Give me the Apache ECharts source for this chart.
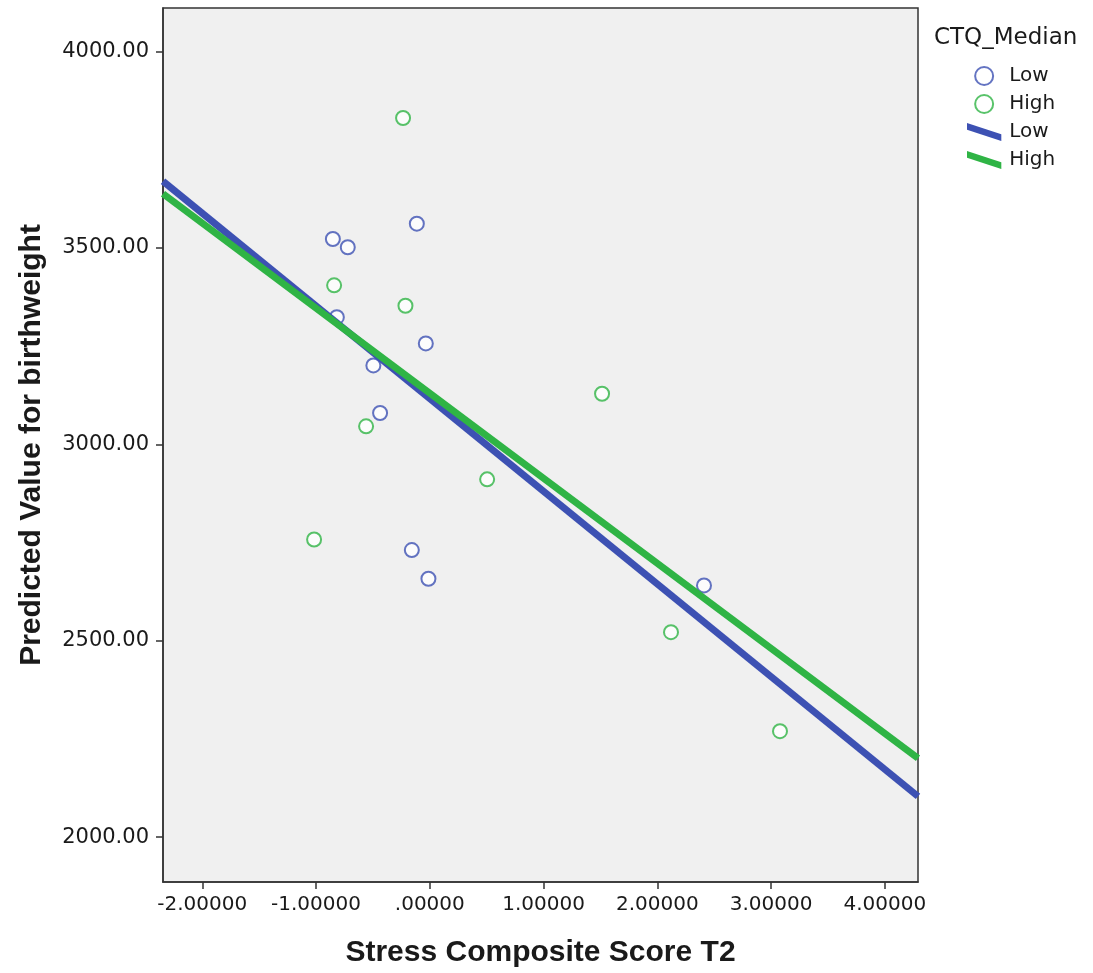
<!DOCTYPE html>
<html>
<head>
<meta charset="utf-8">
<title>Predicted birthweight by stress score</title>
<script src="https://cdn.jsdelivr.net/npm/echarts@6/dist/echarts.min.js"></script>
<style>
  html, body { margin: 0; padding: 0; background: #fff; }
  #chart { width: 1093px; height: 973px; }
</style>
</head>
<body>
<div id="chart"></div>
<script>
// data
var lowX  = [-0.852, -0.721, -0.114, -0.817, -0.035, -0.496, -0.437, -0.158, -0.012, 2.410];
var lowY  = [3523, 3502, 3562, 3324, 3257, 3201, 3080, 2731, 2658, 2641];
var highX = [-0.235, -0.841, -0.214, -0.560, -1.017, 0.504, 1.514, 2.120, 3.078];
var highY = [3831, 3405, 3353, 3046, 2758, 2911, 3129, 2522, 2270];
// fit lines: value at left and right edge of the plot
var fitX     = [-2.345, 4.291];
var lowFitY  = [3670, 2104];
var highFitY = [3638, 2201];
var xTicks = [-2, -1, 0, 1, 2, 3, 4];
var yTicks = [2000, 2500, 3000, 3500, 4000];

function pairs(xs, ys) {
    return xs.map(function (x, i) { return [x, ys[i]]; });
}

var blue = '#3d51b3';
var green = '#2fb445';
var textColor = '#1a1a1a';
var font = 'DejaVu Sans';
var barIcon = 'path://M0,0 L0,8 L40,21 L40,13 Z';

var myChart = echarts.init(document.getElementById('chart'));

var option = {
    animation: false,
    backgroundColor: '#fff',
    title: {
        text: 'CTQ_Median',
        left: 929,
        top: 22,
        textStyle: { fontFamily: font, fontSize: 23, fontWeight: 'normal', color: textColor }
    },
    legend: {
        orient: 'vertical',
        left: 962,
        top: 61,
        itemWidth: 40,
        itemHeight: 18,
        itemGap: 8,
        textStyle: { fontFamily: font, fontSize: 20, color: textColor },
        formatter: function (name) { return name.replace(' fit', ''); },
        data: [
            { name: 'Low', icon: 'emptyCircle' },
            { name: 'High', icon: 'emptyCircle' },
            { name: 'Low fit', icon: barIcon },
            { name: 'High fit', icon: barIcon }
        ]
    },
    grid: {
        left: 163,
        top: 8,
        right: 175,
        bottom: 90,
        show: true,
        backgroundColor: '#f0f0f0',
        borderColor: '#333',
        borderWidth: 1.5
    },
    xAxis: {
        type: 'value',
        min: fitX[0],
        max: fitX[1],
        name: 'Stress Composite Score T2',
        nameLocation: 'middle',
        nameGap: 56,
        nameTextStyle: { fontFamily: 'Liberation Sans', fontWeight: 'bold', fontSize: 30, color: textColor },
        splitLine: { show: false },
        axisLine: { onZero: false, lineStyle: { color: '#333', width: 1.5 } },
        axisTick: { show: true, length: 7, customValues: xTicks, lineStyle: { color: '#333', width: 1.5 } },
        axisLabel: {
            customValues: xTicks,
            margin: 13,
            fontFamily: font,
            fontSize: 20,
            color: textColor,
            formatter: function (v) {
                var s = v.toFixed(5);
                return v === 0 ? s.replace(/^0/, '') : s;
            }
        }
    },
    yAxis: {
        type: 'value',
        min: 1886,
        max: 4111,
        name: 'Predicted Value for birthweight',
        nameLocation: 'middle',
        nameGap: 116,
        nameTextStyle: { fontFamily: 'Liberation Sans', fontWeight: 'bold', fontSize: 30, color: textColor },
        splitLine: { show: false },
        axisLine: { show: true, onZero: false, lineStyle: { color: '#333', width: 1.5 } },
        axisTick: { show: true, length: 7, customValues: yTicks, lineStyle: { color: '#333', width: 1.5 } },
        axisLabel: {
            customValues: yTicks,
            margin: 14,
            fontFamily: font,
            fontSize: 21,
            color: textColor,
            formatter: function (v) { return v.toFixed(2); }
        }
    },
    series: [
        {
            name: 'Low',
            type: 'scatter',
            symbol: 'emptyCircle',
            symbolSize: 14,
            itemStyle: { color: blue, borderColor: blue, borderWidth: 2 },
            data: pairs(lowX, lowY),
            z: 2
        },
        {
            name: 'High',
            type: 'scatter',
            symbol: 'emptyCircle',
            symbolSize: 14,
            itemStyle: { color: green, borderColor: green, borderWidth: 2 },
            data: pairs(highX, highY),
            z: 2
        },
        {
            name: 'Low fit',
            type: 'line',
            showSymbol: false,
            symbol: 'none',
            color: blue,
            lineStyle: { color: blue, width: 7 },
            data: pairs(fitX, lowFitY),
            z: 3
        },
        {
            name: 'High fit',
            type: 'line',
            showSymbol: false,
            symbol: 'none',
            color: green,
            lineStyle: { color: green, width: 7 },
            data: pairs(fitX, highFitY),
            z: 4
        }
    ]
};

myChart.setOption(option);
</script>
</body>
</html>
